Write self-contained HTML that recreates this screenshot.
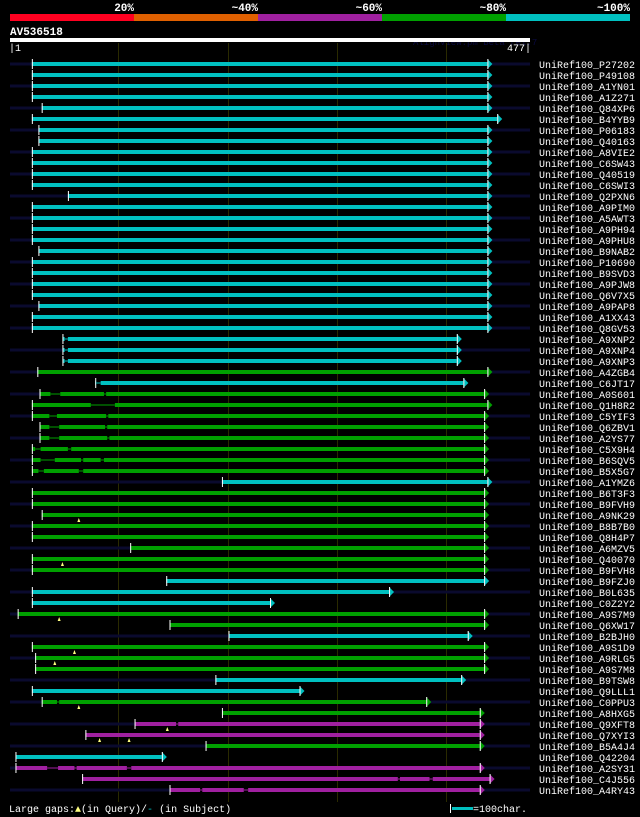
<!DOCTYPE html>
<html><head><meta charset="utf-8"><style>
html,body{margin:0;padding:0;background:#000;width:640px;height:817px;overflow:hidden}
svg{display:block}
text{font-family:"Liberation Mono","DejaVu Sans Mono",monospace}
</style></head><body>
<svg id="chart" width="640" height="817" viewBox="0 0 640 817" xmlns="http://www.w3.org/2000/svg">
  <g>
    <rect x="10" y="14" width="124" height="7" fill="#ff0020"/>
    <rect x="134" y="14" width="124" height="7" fill="#e06000"/>
    <rect x="258" y="14" width="124" height="7" fill="#a020a0"/>
    <rect x="382" y="14" width="124" height="7" fill="#00a000"/>
    <rect x="506" y="14" width="124" height="7" fill="#00c0c0"/>
    <g fill="#fff" font-size="11" font-weight="bold" text-anchor="end">
      <text x="134" y="11">20%</text>
      <text x="258" y="11">~40%</text>
      <text x="382" y="11">~60%</text>
      <text x="506" y="11">~80%</text>
      <text x="630" y="11">~100%</text>
    </g>
  </g>
  <text x="10" y="35" fill="#fff" font-size="11" font-weight="bold">AV536518</text>
  <text x="413" y="45" fill="#0a0a40" font-size="9">AlignView.pm Beta rel.7</text>
  <rect x="10" y="38" width="520" height="4" fill="#fff"/>
  <text x="9" y="51" fill="#fff" font-size="10">|1</text>
  <text x="531" y="51" fill="#fff" font-size="10" text-anchor="end">477|</text>
  <g id="grid"></g>
  <g id="rows"></g>
  <g font-size="10" fill="#fff">
    <text x="9" y="812">Large gaps:<tspan fill="#ffff80">▲</tspan>(in Query)/<tspan fill="#00c0c0">-</tspan> (in Subject)</text>
    <rect x="452" y="807" width="21" height="3" fill="#00c0c0"/>
    <rect x="450" y="804" width="1" height="9" fill="#fff"/>
    <text x="473" y="812">=100char.</text>
  </g>
</svg>
<script>
const names=["P27202","P49108","A1YN01","A1Z271","Q84XP6","B4YYB9","P06183","Q40163","A8VIE2","C6SW43","Q40519","C6SWI3","Q2PXN6","A9PIM0","A5AWT3","A9PH94","A9PHU8","B9NAB2","P10690","B9SVD3","A9PJW8","Q6V7X5","A9PAP8","A1XX43","Q8GV53","A9XNP2","A9XNP4","A9XNP3","A4ZGB4","C6JT17","A0S601","Q1H8R2","C5YIF3","Q6ZBV1","A2YS77","C5X9H4","B6SQV5","B5X5G7","A1YMZ6","B6T3F3","B9FVH9","A9NK29","B8B7B0","Q8H4P7","A6MZV5","Q40070","B9FVH8","B9FZJ0","B0L635","C0Z2Y2","A9S7M9","Q6XW17","B2BJH0","A9S1D9","A9RLG5","A9S7M8","B9TSW8","Q9LLL1","C0PPU3","A8HXG5","Q9XFT8","Q7XYI3","B5A4J4","Q42204","A2SY31","C4J556","A4RY43"];
const starts=[21,21,21,21,30,21,27,27,21,21,21,21,54,21,21,21,21,27,21,21,21,21,27,21,21,49,49,49,26,79,28,21,21,28,28,21,21,21,195,21,21,30,21,21,111,21,21,144,21,21,8,147,201,21,24,24,189,21,30,195,115,70,180,6,6,67,147];
const ends=[438,438,438,438,438,447,438,438,438,438,438,438,438,438,438,438,438,438,438,438,438,438,438,438,438,410,410,410,438,416,435,438,435,435,435,435,435,435,438,435,435,435,435,435,435,435,435,435,348,239,435,435,420,435,435,435,414,266,382,431,431,431,431,140,431,440,431];
// identity class: 0 red,1 orange,2 purple,3 green,4 cyan
const classes=[4,4,4,4,4,4,4,4,4,4,4,4,4,4,4,4,4,4,4,4,4,4,4,4,4,4,4,4,3,4,3,3,3,3,3,3,3,3,4,3,3,3,3,3,3,3,3,4,4,4,3,3,4,3,3,3,4,4,3,3,2,2,3,4,2,2,2];
// subject gaps as [row, fromPos, toPos]
const gaps=[[25,51,54],[26,51,54],[27,51,54],[29,80,84],[30,38,47],[30,87,89],[31,75,97],[32,37,44],[32,89,91],[33,37,46],[33,88,90],[34,37,46],[34,90,92],[35,24,29],[35,54,57],[36,29,42],[36,66,68],[36,84,87],[37,27,32],[37,64,68],[58,44,46],[60,153,155],[64,35,45],[64,60,62],[64,108,112],[65,356,358],[65,385,388],[66,175,177],[66,215,219]];
// query gap markers [row, pos]
const qmarks=[[41,64],[45,49],[50,46],[53,60],[54,42],[58,64],[60,145],[61,83],[61,110]];
const gridPos=[100,201,300,400];
const colors=["#ff0020","#e06000","#a020a0","#00a000","#00c0c0"];
const NS="http://www.w3.org/2000/svg";
const X=p=>10+(p-1)*520/476;
const Y=i=>64+i*11;
function mk(tag,at,parent){const e=document.createElementNS(NS,tag);for(const k in at)e.setAttribute(k,at[k]);parent.appendChild(e);return e;}
const grid=document.getElementById('grid');
gridPos.forEach(p=>{const l=mk('rect',{x:Math.round(X(p)),y:43,width:1,height:759,fill:'#2a2a00'},grid);

});
const rows=document.getElementById('rows');
names.forEach((n,i)=>{
  const g=mk('g',{},rows);
  
  
  const y=Y(i);
  if(i%2===0){mk('rect',{x:10,y:y-1.5,width:520,height:3,fill:'#0a0a2e'},g);}
  const c=colors[classes[i]];
  const x1=X(starts[i]),x2=X(ends[i]);
  const bar=mk('rect',{x:x1,y:y-2,width:x2-x1,height:4,fill:c},g);
  
  
  mk('polygon',{points:`${x2},${y-5} ${x2+5},${y} ${x2},${y+5}`,fill:c},g);
  mk('rect',{x:x1,y:y-5,width:1,height:10,fill:'#fff'},g);
  mk('rect',{x:x2,y:y-5,width:1,height:10,fill:'#fff'},g);
  const t=mk('text',{x:539,y:y+4,fill:'#fff','font-size':'10'},g);
  t.textContent='UniRef100_'+n;
  
  
});
gaps.forEach(([r,a,b])=>{const y=Y(r);const g=rows.children[r];
  mk('rect',{x:X(a),y:y-2,width:X(b)-X(a),height:4,fill:'#000'},g);
  mk('rect',{x:X(a),y:y-0.5,width:X(b)-X(a),height:1,fill:colors[classes[r]]},g);});
qmarks.forEach(([r,p])=>{const y=Y(r);const g=rows.children[r];
  const m=mk('polygon',{points:`${X(p)-1.5},${y+7} ${X(p)},${y+3} ${X(p)+1.5},${y+7}`,fill:'#ffff80'},g);
  
  });
</script>
</body></html>
